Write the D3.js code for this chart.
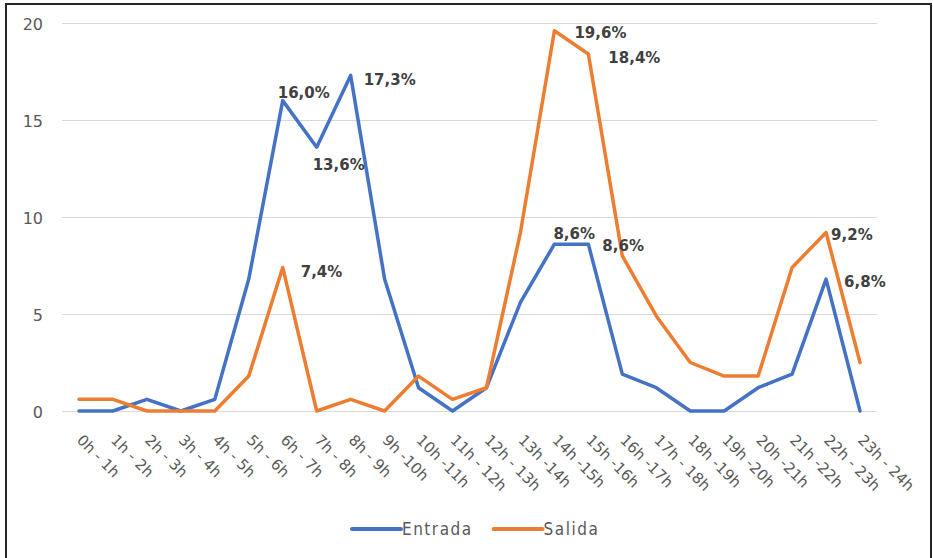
<!DOCTYPE html>
<html>
<head>
<meta charset="utf-8">
<script src="https://cdn.jsdelivr.net/npm/d3@7"></script>
<style>
  html, body { margin: 0; padding: 0; background: #fff; }
  svg { display: block; }
</style>
</head>
<body>
<svg id="chart" width="933" height="558"></svg>
<script>
// Hourly time slots
const categories = [
  "0h - 1h", "1h - 2h", "2h - 3h", "3h - 4h", "4h - 5h", "5h - 6h",
  "6h - 7h", "7h - 8h", "8h - 9h", "9h -10h", "10h -11h", "11h - 12h",
  "12h - 13h", "13h -14h", "14h -15h", "15h -16h", "16h -17h", "17h - 18h",
  "18h -19h", "19h -20h", "20h -21h", "21h -22h", "22h - 23h", "23h - 24h"
];

// Share of movements per slot (%)
const entrada = [
  0, 0, 0.6, 0, 0.6, 6.8,
  16.0, 13.6, 17.3, 6.8, 1.2, 0,
  1.2, 5.6, 8.6, 8.6, 1.9, 1.2,
  0, 0, 1.2, 1.9, 6.8, 0
];
const salida = [
  0.6, 0.6, 0, 0, 0, 1.8,
  7.4, 0, 0.6, 0, 1.8, 0.6,
  1.2, 9.2, 19.6, 18.4, 8.0, 4.9,
  2.5, 1.8, 1.8, 7.4, 9.2, 2.5
];

const seriesNames = ["Entrada", "Salida"];
const seriesColors = ["#4472C4", "#ED7D31"];
const yTicks = [0, 5, 10, 15, 20];

// Which points carry a value label
const labelledPoints = [
  { series: 0, index: 6 },
  { series: 0, index: 7 },
  { series: 0, index: 8 },
  { series: 0, index: 14 },
  { series: 0, index: 15 },
  { series: 0, index: 22 },
  { series: 1, index: 6 },
  { series: 1, index: 14 },
  { series: 1, index: 15 },
  { series: 1, index: 22 }
];
// Label offsets from their point, in the same order
const labelNudges = [
  [-5, -3], [-4, 23], [13, 10], [-1, -5], [14, 7], [18, 8],
  [18, 10], [20, 7], [20, 9], [5, 7]
];

const seriesValues = [entrada, salida];

const svg = d3.select("#chart");

// Outer frame
svg.append("rect")
  .attr("x", 6).attr("y", 4)
  .attr("width", 925).attr("height", 570)
  .attr("fill", "none")
  .attr("stroke", "#262626")
  .attr("stroke-width", 2);

const x = d3.scaleBand().domain(categories).range([62, 877]);
const y = d3.scaleLinear().domain([0, 20]).range([411, 23]);
const cx = c => x(c) + x.bandwidth() / 2;

// Y axis with gridlines
const yAxis = svg.append("g")
  .attr("transform", "translate(62,0)")
  .call(d3.axisLeft(y).tickValues(yTicks).tickSize(-815).tickPadding(19).tickFormat(d3.format("d")));
yAxis.select(".domain").remove();
yAxis.selectAll(".tick line").attr("stroke", "#D9D9D9").attr("stroke-width", 1);
yAxis.selectAll(".tick text")
  .attr("fill", "#595959")
  .attr("font-family", "DejaVu Sans")
  .attr("font-size", 16)
  .attr("dy", "0.42em");

// X axis with slanted labels
const xAxis = svg.append("g")
  .attr("transform", "translate(0,411)")
  .call(d3.axisBottom(x).tickSize(0));
xAxis.select(".domain").remove();
xAxis.selectAll(".tick text")
  .attr("y", 0).attr("x", 0).attr("dy", 0)
  .attr("text-anchor", "start")
  .attr("transform", "translate(-3,30) rotate(45)")
  .attr("fill", "#595959")
  .attr("font-family", "DejaVu Sans")
  .attr("font-size", 15);

// Lines
const line = d3.line()
  .x((d, i) => cx(categories[i]))
  .y(d => y(d));

svg.selectAll("path.series")
  .data(seriesValues)
  .join("path")
  .attr("class", "series")
  .attr("d", d => line(d))
  .attr("fill", "none")
  .attr("stroke", (d, i) => seriesColors[i])
  .attr("stroke-width", 3.5)
  .attr("stroke-linejoin", "round")
  .attr("stroke-linecap", "round");

// Value labels
const fmt = d3.formatLocale({ decimal: ",", thousands: ".", grouping: [3], currency: ["", "€"] }).format(".1f");
svg.selectAll("text.value")
  .data(labelledPoints)
  .join("text")
  .attr("class", "value")
  .attr("x", (d, i) => cx(categories[d.index]) + labelNudges[i][0])
  .attr("y", (d, i) => y(seriesValues[d.series][d.index]) + labelNudges[i][1])
  .attr("fill", "#404040")
  .attr("font-family", "DejaVu Sans")
  .attr("font-weight", "bold")
  .attr("font-size", 15)
  .text(d => fmt(seriesValues[d.series][d.index]) + "%");

// Legend
const legend = svg.append("g").attr("transform", "translate(352,529)");
let lx = 0;
seriesNames.forEach((name, i) => {
  legend.append("line")
    .attr("x1", lx).attr("x2", lx + 49)
    .attr("y1", 0).attr("y2", 0)
    .attr("stroke", seriesColors[i])
    .attr("stroke-width", 4)
    .attr("stroke-linecap", "round");
  const t = legend.append("text")
    .attr("x", lx + 50).attr("y", 6)
    .attr("fill", "#595959")
    .attr("font-family", "DejaVu Sans Condensed")
    .attr("font-size", 17)
    .attr("letter-spacing", 1.5)
    .text(name);
  lx += 50 + t.node().getComputedTextLength() + 21;
});
</script>
</body>
</html>
